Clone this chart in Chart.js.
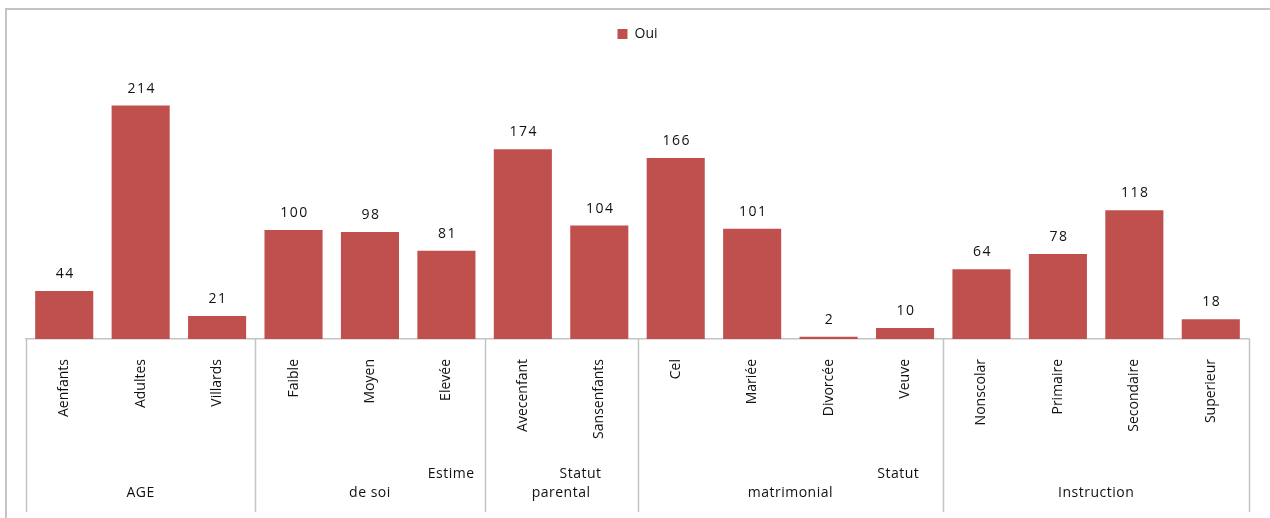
<!DOCTYPE html>
<html>
<head>
<meta charset="utf-8">
<script src="https://cdn.jsdelivr.net/npm/chart.js@4"></script>
<style>
  body { margin: 0; background: #fff; }
  #wrap { position: relative; width: 1270px; height: 518px; }
  #frame { position: absolute; left: 5px; top: 8px; right: -10px; bottom: -10px;
           border-left: 2px solid #c4c4c4; border-top: 2px solid #c4c4c4; pointer-events: none; }
</style>
</head>
<body>
<div id="wrap">
  <canvas id="myChart" width="1270" height="518"></canvas>
  <div id="frame"></div>
</div>
<script>
// categories (inner level) and values
const categories = ["Aenfants", "Adultes", "Villards", "Faible", "Moyen", "Elevée",
  "Avecenfant", "Sansenfants", "Cel", "Mariée", "Divorcée", "Veuve",
  "Nonscolar", "Primaire", "Secondaire", "Superieur"];
const ouiValues = [44, 214, 21, 100, 98, 81, 174, 104, 166, 101, 2, 10, 64, 78, 118, 18];

// outer level groups
const groupSizes = [3, 3, 2, 4, 4];
const groupLines = [["AGE"], ["Estime", "de soi"], ["Statut", "parental"], ["Statut", "matrimonial"], ["Instruction"]];

const barColor = "#C0504D";
const lineColor = "#c4c4c4";
const textColor = "#111";
const fontFam = "'Open Sans', sans-serif";

// value labels on top of bars
const valueLabels = {
  id: "valueLabels",
  afterDatasetsDraw(chart) {
    const ctx = chart.ctx;
    const meta = chart.getDatasetMeta(0);
    ctx.save();
    ctx.font = "14px " + fontFam;
    ctx.letterSpacing = "1.5px";
    ctx.fillStyle = textColor;
    ctx.textAlign = "center";
    ctx.textBaseline = "middle";
    meta.data.forEach((bar, i) => {
      ctx.fillText(String(ouiValues[i]), bar.x + 1, bar.y - 17);
    });
    ctx.restore();
  }
};

// group dividers + group names under the category labels
const groupAxis = {
  id: "groupAxis",
  afterDraw(chart) {
    const ctx = chart.ctx;
    const x = chart.scales.x;
    const step = x.getPixelForValue(1) - x.getPixelForValue(0);
    const top = chart.chartArea.bottom;
    const bottom = 512;
    const inset = [0, 10, 36, 24, 0]; // first line of wrapped names sits to the right
    ctx.save();
    ctx.strokeStyle = lineColor;
    ctx.lineWidth = 1.5;
    ctx.font = "14px " + fontFam;
    ctx.letterSpacing = "0.5px";
    ctx.fillStyle = textColor;
    ctx.textBaseline = "middle";
    let start = 0;
    groupSizes.forEach((n, g) => {
      const left = x.getPixelForValue(start) - step / 2;
      const right = x.getPixelForValue(start + n - 1) + step / 2;
      ctx.beginPath();
      ctx.moveTo(Math.round(left) + 0.5, top);
      ctx.lineTo(Math.round(left) + 0.5, bottom);
      if (g === groupSizes.length - 1) {
        ctx.moveTo(Math.round(right) + 0.5, top);
        ctx.lineTo(Math.round(right) + 0.5, bottom);
      }
      ctx.stroke();
      const lines = groupLines[g];
      if (lines.length === 1) {
        ctx.textAlign = "center";
        ctx.fillText(lines[0], (left + right) / 2, 493);
      } else {
        ctx.textAlign = "right";
        ctx.fillText(lines[0], right - inset[g], 474);
        ctx.textAlign = "center";
        ctx.fillText(lines[1], (left + right) / 2, 493);
      }
      start += n;
    });
    ctx.restore();
  }
};

const ctx = document.getElementById("myChart");
new Chart(ctx, {
  type: "bar",
  data: {
    labels: categories,
    datasets: [
      {
        label: "Oui",
        data: ouiValues,
        backgroundColor: barColor,
        borderWidth: 0,
        categoryPercentage: 1,
        barPercentage: 0.76,
      },
    ],
  },
  options: {
    responsive: false,
    animation: false,
    layout: { padding: { left: 26, right: 21, top: 17, bottom: 6 } },
    plugins: {
      tooltip: { enabled: false },
      legend: {
        position: "top",
        labels: {
          boxWidth: 10,
          boxHeight: 10,
          padding: 10,
          color: textColor,
          font: { size: 14, family: fontFam },
        },
      },
    },
    scales: {
      x: {
        grid: { display: false },
        border: { display: true, color: lineColor, width: 1.5 },
        ticks: {
          minRotation: 90,
          maxRotation: 90,
          autoSkip: false,
          padding: 12,
          color: textColor,
          font: { size: 14, family: fontFam },
        },
        afterFit: (s) => { s.height = 173; },
      },
      y: {
        display: false,
        min: 0,
        max: 264,
      },
    },
  },
  plugins: [valueLabels, groupAxis],
});
</script>
</body>
</html>
